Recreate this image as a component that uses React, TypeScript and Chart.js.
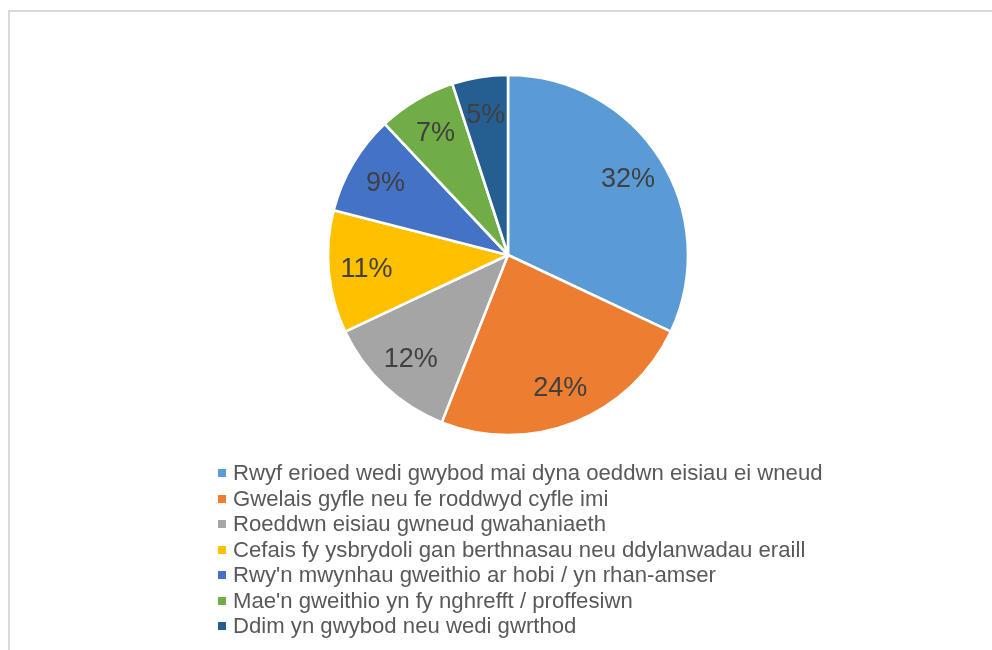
import React, { useEffect, useRef } from "react";
import { Chart, registerables } from "chart.js";

Chart.register(...registerables);

const categories: string[] = [
  "Rwyf erioed wedi gwybod mai dyna oeddwn eisiau ei wneud",
  "Gwelais gyfle neu fe roddwyd cyfle imi",
  "Roeddwn eisiau gwneud gwahaniaeth",
  "Cefais fy ysbrydoli gan berthnasau neu ddylanwadau eraill",
  "Rwy'n mwynhau gweithio ar hobi / yn rhan-amser",
  "Mae'n gweithio yn fy nghrefft / proffesiwn",
  "Ddim yn gwybod neu wedi gwrthod",
];

const values: number[] = [32, 24, 12, 11, 9, 7, 5];

const colors: string[] = [
  "#5B9BD5",
  "#ED7D31",
  "#A5A5A5",
  "#FFC000",
  "#4472C4",
  "#70AD47",
  "#255E91",
];

const FONT = "'Liberation Sans', Arial, 'DejaVu Sans', sans-serif";

const pctLabels = {
  id: "pctLabels",
  afterDatasetsDraw(chart: any) {
    const ctx = chart.ctx;
    const meta = chart.getDatasetMeta(0);
    ctx.save();
    ctx.font = `27px ${FONT}`;
    ctx.fillStyle = "#404040";
    ctx.textAlign = "center";
    ctx.textBaseline = "middle";
    meta.data.forEach((arc: any, i: number) => {
      const p = arc.getProps(["x", "y", "startAngle", "endAngle", "outerRadius"], true);
      const mid = (p.startAngle + p.endAngle) / 2;
      const r = p.outerRadius * 0.79;
      ctx.fillText(`${values[i]}%`, p.x + Math.cos(mid) * r, p.y + Math.sin(mid) * r + 1);
    });
    ctx.restore();
  },
};

export default function App() {
  const ref = useRef<HTMLCanvasElement>(null);

  useEffect(() => {
    if (!ref.current) return;
    const chart = new Chart(ref.current, {
      type: "pie",
      data: {
        labels: categories,
        datasets: [
          {
            data: values,
            backgroundColor: colors,
            borderColor: "#ffffff",
            borderWidth: 2.6,
          },
        ],
      },
      options: {
        animation: false,
        responsive: false,
        devicePixelRatio: 1,
        radius: 180,
        layout: { padding: { left: 24, right: 0, top: 0, bottom: 140 } },
        plugins: {
          legend: { display: false },
          tooltip: { enabled: false },
        },
      } as any,
      plugins: [pctLabels],
    });
    return () => chart.destroy();
  }, []);

  return (
    <div
      style={{
        position: "absolute",
        left: 0,
        top: 0,
        width: 992,
        height: 650,
        overflow: "hidden",
        background: "#ffffff",
      }}
    >
      <div
        style={{
          position: "absolute",
          left: 8,
          top: 10,
          width: 1100,
          height: 800,
          borderLeft: "2px solid #d9d9d9",
          borderTop: "2px solid #d9d9d9",
        }}
      />
      <canvas
        ref={ref}
        width={992}
        height={650}
        style={{ position: "absolute", left: 0, top: 0, width: 992, height: 650 }}
      />
      <div style={{ position: "absolute", left: 218, top: 460 }}>
        {categories.map((c, i) => (
          <div key={c} style={{ position: "relative", height: 25.5, width: 700 }}>
            <span
              style={{
                position: "absolute",
                left: 0,
                top: 9.3,
                width: 8,
                height: 8,
                background: colors[i],
              }}
            />
            <span
              style={{
                position: "absolute",
                left: 15,
                top: 0,
                font: `22.15px ${FONT}`,
                lineHeight: "25.5px",
                color: "#595959",
                whiteSpace: "nowrap",
              }}
            >
              {c}
            </span>
          </div>
        ))}
      </div>
    </div>
  );
}
